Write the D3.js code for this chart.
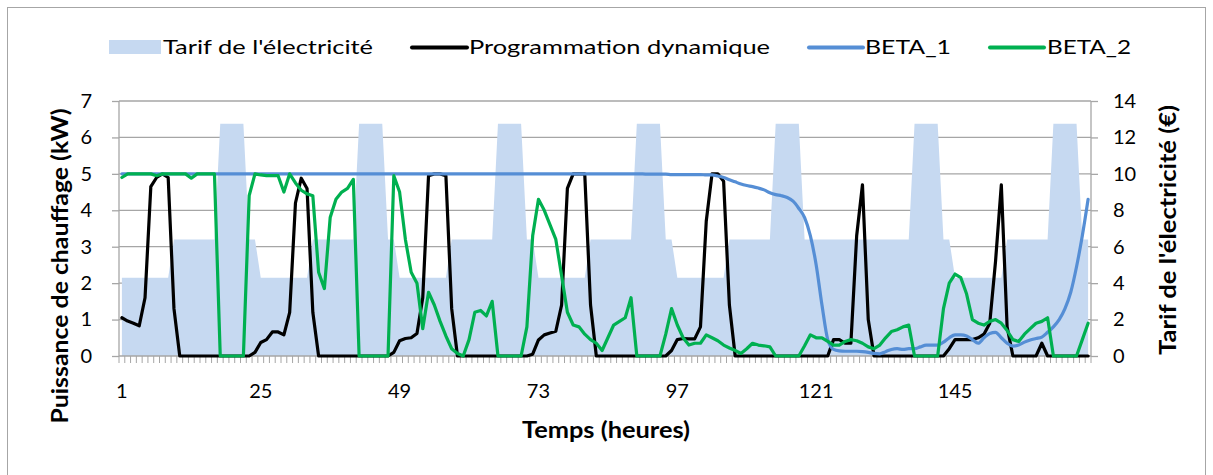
<!DOCTYPE html>
<html><head><meta charset="utf-8">
<script src="https://cdn.jsdelivr.net/npm/d3@7"></script>
<style>html,body{margin:0;padding:0;background:#fff;}svg{display:block;}</style>
</head><body>
<svg id="c" width="1213" height="475"></svg>
<script>
// ---------- data ----------
const hours = d3.range(1, 169);            // 168 hourly categories
const xTickLabels = [1, 25, 49, 73, 97, 121, 145];
const leftTicks = [0, 1, 2, 3, 4, 5, 6, 7];
const rightTicks = [0, 2, 4, 6, 8, 10, 12, 14];

const tarif = [
 4.3,4.3,4.3,4.3,4.3,4.3,4.3,4.3,4.3,6.4,6.4,6.4,6.4,6.4,6.4,6.4,6.4,12.75,12.75,12.75,12.75,12.75,6.4,6.4,
 4.3,4.3,4.3,4.3,4.3,4.3,4.3,4.3,4.3,6.4,6.4,6.4,6.4,6.4,6.4,6.4,6.4,12.75,12.75,12.75,12.75,12.75,6.4,6.4,
 4.3,4.3,4.3,4.3,4.3,4.3,4.3,4.3,4.3,6.4,6.4,6.4,6.4,6.4,6.4,6.4,6.4,12.75,12.75,12.75,12.75,12.75,6.4,6.4,
 4.3,4.3,4.3,4.3,4.3,4.3,4.3,4.3,4.3,6.4,6.4,6.4,6.4,6.4,6.4,6.4,6.4,12.75,12.75,12.75,12.75,12.75,6.4,6.4,
 4.3,4.3,4.3,4.3,4.3,4.3,4.3,4.3,4.3,6.4,6.4,6.4,6.4,6.4,6.4,6.4,6.4,12.75,12.75,12.75,12.75,12.75,6.4,6.4,
 6.4,6.4,6.4,6.4,6.4,6.4,6.4,6.4,6.4,6.4,6.4,6.4,6.4,6.4,6.4,6.4,6.4,12.75,12.75,12.75,12.75,12.75,6.4,6.4,
 4.3,4.3,4.3,4.3,4.3,4.3,4.3,4.3,4.3,6.4,6.4,6.4,6.4,6.4,6.4,6.4,6.4,12.75,12.75,12.75,12.75,12.75,6.4,6.4
];

const progDyn = [
 1.05,0.96,0.9,0.83,1.6,4.65,4.9,5.0,4.9,1.3,0,0,0,0,0,0,0,0,0,0,0,0,0,0.1,
 0.37,0.45,0.66,0.66,0.58,1.2,4.2,4.88,4.6,1.2,0,0,0,0,0,0,0,0,0,0,0,0,0,0.1,
 0.42,0.48,0.5,0.62,1.6,4.95,5.0,5.0,4.95,1.3,0,0,0,0,0,0,0,0,0,0,0,0,0,0.05,
 0.44,0.58,0.63,0.68,1.4,4.6,5.0,5.0,5.0,1.4,0,0,0,0,0,0,0,0,0,0,0,0,0,0.15,
 0.45,0.48,0.47,0.47,0.8,3.7,5.0,5.0,4.8,1.4,0,0,0,0,0,0,0,0,0,0,0,0,0,0,
 0,0,0,0.45,0.45,0.35,0.35,3.3,4.7,1.0,0,0,0,0,0,0,0,0,0,0,0,0,0,0.2,
 0.45,0.45,0.45,0.45,0.5,0.6,0.9,2.6,4.7,0.8,0,0,0,0,0,0.35,0,0,0,0,0,0,0,0
];

const beta1 = [
 5.0,5.0,5.0,5.0,5.0,5.0,5.0,5.0,5.0,5.0,5.0,5.0,5.0,5.0,5.0,5.0,5.0,5.0,5.0,5.0,5.0,5.0,5.0,5.0,
 5.0,5.0,5.0,5.0,5.0,5.0,5.0,5.0,5.0,5.0,5.0,5.0,5.0,5.0,5.0,5.0,5.0,5.0,5.0,5.0,5.0,5.0,5.0,5.0,
 5.0,5.0,5.0,5.0,5.0,5.0,5.0,5.0,5.0,5.0,5.0,5.0,5.0,5.0,5.0,5.0,5.0,5.0,5.0,5.0,5.0,5.0,5.0,5.0,
 5.0,5.0,5.0,5.0,5.0,5.0,5.0,5.0,5.0,5.0,5.0,5.0,5.0,5.0,5.0,5.0,5.0,5.0,5.0,4.99,4.99,4.99,4.99,4.98,
 4.98,4.98,4.98,4.98,4.98,4.97,4.97,4.94,4.9,4.84,4.78,4.72,4.68,4.65,4.61,4.56,4.48,4.43,4.4,4.35,4.25,4.05,3.8,3.3,
 2.5,1.4,0.45,0.18,0.14,0.13,0.13,0.13,0.12,0.1,0.07,0.06,0.12,0.18,0.2,0.18,0.2,0.2,0.25,0.3,0.3,0.3,0.38,0.5,
 0.58,0.58,0.55,0.45,0.35,0.5,0.62,0.65,0.5,0.35,0.27,0.3,0.38,0.44,0.48,0.52,0.65,0.8,1.0,1.3,1.75,2.45,3.3,4.3
];

const beta2 = [
 4.9,5.0,5.0,5.0,5.0,5.0,4.95,5.0,5.0,5.0,5.0,5.0,4.88,5.0,5.0,5.0,5.0,0,0,0,0,0,4.4,5.0,
 4.97,4.95,4.95,4.95,4.5,5.0,4.75,4.55,4.45,4.4,2.3,1.85,3.8,4.3,4.5,4.6,4.85,0,0,0,0,0,0,4.95,
 4.5,3.2,2.3,2.0,0.75,1.75,1.4,0.95,0.55,0.2,0.07,0,0.45,1.2,1.25,1.1,1.5,0,0,0,0,0,0.8,3.3,
 4.3,4.0,3.6,3.2,2.2,1.2,0.85,0.8,0.6,0.45,0.35,0.15,0.5,0.85,0.95,1.05,1.6,0,0,0,0,0,0.6,1.3,
 0.85,0.5,0.3,0.35,0.35,0.58,0.5,0.42,0.3,0.22,0.15,0.07,0.2,0.35,0.3,0.28,0.25,0,0,0,0,0,0.28,0.58,
 0.5,0.5,0.4,0.3,0.3,0.4,0.45,0.42,0.35,0.25,0.2,0.3,0.5,0.67,0.72,0.8,0.85,0,0,0,0,0,1.3,2.0,
 2.25,2.15,1.7,1.0,0.9,0.85,0.95,1.0,0.9,0.7,0.45,0.4,0.6,0.75,0.9,0.95,1.05,0,0,0,0,0,0.45,0.9
];

const legendItems = ["Tarif de l'électricité", "Programmation dynamique", "BETA_1", "BETA_2"];
const titleX = "Temps (heures)";
const titleYL = "Puissance de chauffage (kW)";
const titleYR = "Tarif de l'électricité (€)";

// ---------- layout ----------
const FONT = "Lato, 'Open Sans', sans-serif";
const P = {l: 119, r: 1091, t: 101, b: 356};
const C = {area: "#C6D9F1", prog: "#000000", b1: "#558ED5", b2: "#00B050", grid: "#A6A6A6", axis: "#A6A6A6"};

const svg = d3.select("#c");
svg.append("rect").attr("width", 1213).attr("height", 475).attr("fill", "#fff");
svg.append("rect").attr("x", 7.5).attr("y", 7.5).attr("width", 1198).attr("height", 490)
   .attr("fill", "none").attr("stroke", "#A6A6A6").attr("stroke-width", 1);

const x = d3.scaleBand().domain(hours).range([P.l, P.r]);
const cx = h => x(h) + x.bandwidth() / 2;
const yL = d3.scaleLinear().domain([0, 7]).range([P.b, P.t]);
const yR = d3.scaleLinear().domain([0, 14]).range([P.b, P.t]);

// gridlines
svg.append("g").selectAll("line").data(leftTicks.slice(1)).join("line")
  .attr("x1", P.l).attr("x2", P.r).attr("y1", d => yL(d)).attr("y2", d => yL(d))
  .attr("stroke", C.grid).attr("stroke-width", 1.3);

// tarif area
const area = d3.area().x((d, i) => cx(hours[i])).y0(yR(0)).y1(d => yR(d));
svg.append("path").datum(tarif).attr("d", area).attr("fill", C.area);

// axes lines
svg.append("line").attr("x1", P.l).attr("x2", P.l).attr("y1", P.t).attr("y2", P.b).attr("stroke", C.axis).attr("stroke-width", 1.3);
svg.append("line").attr("x1", P.r).attr("x2", P.r).attr("y1", P.t).attr("y2", P.b).attr("stroke", C.axis).attr("stroke-width", 1.3);
svg.append("line").attr("x1", P.l).attr("x2", P.r).attr("y1", P.b).attr("y2", P.b).attr("stroke", C.axis).attr("stroke-width", 1.3);

// left axis ticks + labels
const gL = svg.append("g").attr("transform", `translate(${P.l},0)`)
  .call(d3.axisLeft(yL).tickValues(leftTicks).tickSize(7).tickPadding(0).tickFormat(d3.format("d")));
gL.select(".domain").remove();
gL.selectAll(".tick line").attr("stroke", C.axis).attr("stroke-width", 1.3);
gL.selectAll(".tick text").attr("x", -27).attr("font-family", FONT).attr("font-size", 20).attr("fill", "#000");

// right axis
const gR = svg.append("g").attr("transform", `translate(${P.r},0)`)
  .call(d3.axisRight(yR).tickValues(rightTicks).tickSize(7).tickPadding(0).tickFormat(d3.format("d")));
gR.select(".domain").remove();
gR.selectAll(".tick line").attr("stroke", C.axis).attr("stroke-width", 1.3);
gR.selectAll(".tick text").attr("x", 22).attr("font-family", FONT).attr("font-size", 20).attr("fill", "#000");

// bottom minor ticks at category boundaries
svg.append("g").selectAll("line").data(hours).join("line")
  .attr("x1", d => x(d)).attr("x2", d => x(d)).attr("y1", P.b).attr("y2", P.b + 7)
  .attr("stroke", C.axis).attr("stroke-width", 1);
svg.append("line").attr("x1", P.r).attr("x2", P.r).attr("y1", P.b).attr("y2", P.b + 7).attr("stroke", C.axis);

// bottom labels
const gB = svg.append("g").attr("transform", `translate(0,${P.b})`)
  .call(d3.axisBottom(x).tickValues(xTickLabels).tickSize(0).tickPadding(28));
gB.select(".domain").remove();
gB.selectAll(".tick text").attr("font-family", FONT).attr("font-size", 20).attr("fill", "#000");

// lines
const line = d3.line().x((d, i) => cx(hours[i])).y(d => yL(d));
svg.append("path").datum(progDyn).attr("d", line).attr("fill", "none").attr("stroke", C.prog)
  .attr("stroke-width", 3.2).attr("stroke-linejoin", "round").attr("stroke-linecap", "round");
svg.append("path").datum(beta1).attr("d", line.curve(d3.curveMonotoneX)).attr("fill", "none").attr("stroke", C.b1)
  .attr("stroke-width", 3.2).attr("stroke-linejoin", "round").attr("stroke-linecap", "round");
line.curve(d3.curveLinear);
svg.append("path").datum(beta2).attr("d", line).attr("fill", "none").attr("stroke", C.b2)
  .attr("stroke-width", 3.2).attr("stroke-linejoin", "round").attr("stroke-linecap", "round");

// titles
svg.append("text").attr("x", 606).attr("y", 438).attr("text-anchor", "middle")
  .attr("font-family", FONT).attr("font-weight", "bold").attr("font-size", 22)
  .attr("textLength", 168).attr("lengthAdjust", "spacingAndGlyphs").text(titleX);
svg.append("text").attr("transform", "translate(68,266) rotate(-90)").attr("text-anchor", "middle")
  .attr("font-family", FONT).attr("font-weight", "bold").attr("font-size", 23)
  .attr("textLength", 315).attr("lengthAdjust", "spacingAndGlyphs").text(titleYL);
svg.append("text").attr("transform", "translate(1176,230) rotate(-90)").attr("text-anchor", "middle")
  .attr("font-family", FONT).attr("font-weight", "bold").attr("font-size", 23)
  .attr("textLength", 250).attr("lengthAdjust", "spacingAndGlyphs").text(titleYR);

// legend
const lg = svg.append("g").attr("font-family", FONT).attr("font-size", 20);
lg.append("rect").attr("x", 109).attr("y", 40).attr("width", 52).attr("height", 14).attr("fill", C.area);
lg.append("text").attr("x", 163).attr("y", 54).attr("textLength", 210).attr("lengthAdjust", "spacingAndGlyphs").text(legendItems[0]);
const sw = [[412, 467, C.prog, 469, 301], [809, 863, C.b1, 865, 86], [990, 1044, C.b2, 1047, 84]];
sw.forEach((s, i) => {
  lg.append("line").attr("x1", s[0]).attr("x2", s[1]).attr("y1", 47.5).attr("y2", 47.5)
    .attr("stroke", s[2]).attr("stroke-width", 4).attr("stroke-linecap", "round");
  lg.append("text").attr("x", s[3]).attr("y", 54).attr("textLength", s[4]).attr("lengthAdjust", "spacingAndGlyphs").text(legendItems[i + 1]);
});
</script>
</body></html>
